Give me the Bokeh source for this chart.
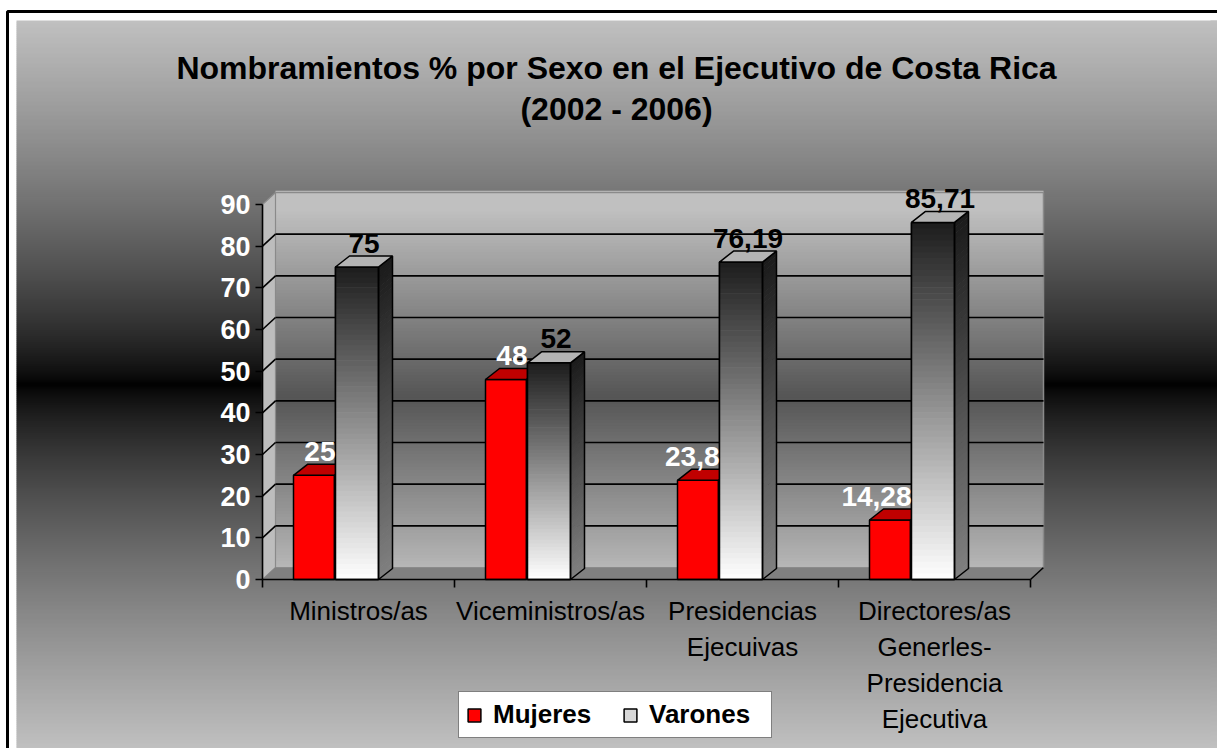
import numpy as np
from bokeh.plotting import figure
from bokeh.models import Range1d, LinearAxis, FixedTicker, Legend, LegendItem
from bokeh.core.properties import value
from bokeh.embed import file_html
from bokeh.resources import INLINE

# ---------------- data ----------------
categories = ["Ministros/as", "Viceministros/as", "Presidencias\nEjecuivas",
              "Directores/as\nGenerles-\nPresidencia\nEjecutiva"]
mujeres = [25, 48, 23.8, 14.28]
varones = [75, 52, 76.19, 85.71]
series_names = ["Mujeres", "Varones"]
y_ticks = [0, 10, 20, 30, 40, 50, 60, 70, 80, 90]
title_lines = ["Nombramientos % por Sexo en el Ejecutivo de Costa Rica", "(2002 - 2006)"]

FONT_NAME = "Liberation Sans"
FONT = value(FONT_NAME)

# ---------------- geometry (pixel layout -> data units) ----------------
W, H = 1217, 748
PAGE = 0
X0_PX, X_UNIT = 358.0, 192.0          # px of first category centre, px per category
Y0_PX, Y_UNIT = 579.0, 375.0 / 90.0   # px of value 0, px per percent


def ux(wx):
    return (wx - X0_PX) / X_UNIT


def vy(wy):
    return (Y0_PX - wy) / Y_UNIT


def gray(g):
    g = int(max(0, min(255, round(g))))
    return "#%02x%02x%02x" % (g, g, g)


def lerp_hex(c0, c1, t):
    a = [int(c0[k:k + 2], 16) for k in (1, 3, 5)]
    b = [int(c1[k:k + 2], 16) for k in (1, 3, 5)]
    return "#%02x%02x%02x" % tuple(int(round(a[k] + (b[k] - a[k]) * t)) for k in range(3))


N_CAT = len(categories)
X_MIN, X_MAX = -0.5, N_CAT - 0.5
WDX, WDY = 13 / X_UNIT, 12 / Y_UNIT      # wall depth
BDX, BDY = 14 / X_UNIT, 11 / Y_UNIT      # bar depth
M_L, M_R = 31 / X_UNIT, 72 / X_UNIT      # offsets from category left edge
V_L, V_R = 73 / X_UNIT, 116 / X_UNIT
Y_MAX = y_ticks[-1]

p = figure(width=W, height=H,
           x_range=Range1d(ux(PAGE), ux(PAGE + W)),
           y_range=Range1d(vy(PAGE + H), vy(PAGE)),
           output_backend="svg", toolbar_location=None,
           x_axis_type=None, y_axis_type=None, min_border=0,
           outline_line_color=None, background_fill_color="white",
           border_fill_color="white")
p.outline_line_color = None
p.outline_line_alpha = 0

# ---------------- page background gradient ----------------
bands = np.arange(20, 760, 2)
bg_cols = [gray(192 * min(1.0, abs(b + 1 - 384) / 364) ** 0.75) for b in bands]
p.quad(left=ux(16), right=ux(1240), top=[vy(b) for b in bands],
       bottom=[vy(b + 2.7) for b in bands], fill_color=bg_cols, line_color=None)

# outer frame line (top and left)
p.line(x=[ux(1240), ux(7), ux(7)], y=[vy(11), vy(11), vy(760)],
       line_color="black", line_width=3)

# ---------------- 3D walls ----------------
wall_top = Y_MAX + WDY
wall_bands = np.linspace(WDY, wall_top, 120)
wb_cols = []
for k in range(len(wall_bands) - 1):
    mid = (wall_bands[k] + wall_bands[k + 1]) / 2
    t = abs(mid - (WDY + wall_top) / 2 + 4) / ((wall_top - WDY) / 2)
    wb_cols.append(gray(85 + 107 * min(1, t)))
p.quad(left=X_MIN + WDX, right=X_MAX + WDX, bottom=wall_bands[:-1],
       top=wall_bands[1:] + 0.4, fill_color=wb_cols, line_color=None)

# side wall
p.patch(x=[X_MIN, X_MIN, X_MIN + WDX, X_MIN + WDX], y=[0, Y_MAX, wall_top, WDY],
        fill_color="#bdbdbd", line_color="#8a8a8a", line_width=1.2)
# floor
p.patch(x=[X_MIN, X_MAX, X_MAX + WDX, X_MIN + WDX], y=[0, 0, WDY, WDY],
        fill_color="#808080", line_color=None)
p.line(x=[X_MAX, X_MAX + WDX], y=[0, WDY], line_color="black", line_width=1.5)
# wall outer edges
p.line(x=[X_MIN + WDX, X_MAX + WDX, X_MAX + WDX], y=[wall_top, wall_top, WDY],
       line_color="#8a8a8a", line_width=1.5)

# gridlines on back + side wall
grid_vals = y_ticks[1:-1]
p.multi_line(xs=[[X_MIN + WDX, X_MAX + WDX] for _ in grid_vals],
             ys=[[t + WDY, t + WDY] for t in grid_vals], line_color="black", line_width=1.6)
p.multi_line(xs=[[X_MIN, X_MIN + WDX] for _ in grid_vals],
             ys=[[t, t + WDY] for t in grid_vals], line_color="black", line_width=1.6)

# ---------------- bars ----------------
cat_left = [i - 0.5 for i in range(N_CAT)]
m_l = [c + M_L for c in cat_left]
m_r = [c + M_R for c in cat_left]
v_l = [c + V_L for c in cat_left]
v_r = [c + V_R for c in cat_left]

# Mujeres
r_m = p.quad(left=m_l, right=m_r, bottom=0, top=mujeres, fill_color="#ff0000",
             line_color="black", line_width=1.5)
p.patches(xs=[[a, b, b + BDX, a + BDX] for a, b in zip(m_l, m_r)],
          ys=[[h, h, h + BDY, h + BDY] for h in mujeres],
          fill_color="#c00000", line_color="black", line_width=1.5)
p.patches(xs=[[b, b + BDX, b + BDX, b] for b in m_r],
          ys=[[0, BDY, h + BDY, h] for h in mujeres],
          fill_color="#a00000", line_color="black", line_width=1.5)

# Varones (gradient front & side)
r_v = p.quad(left=v_l, right=v_r, bottom=0, top=varones, fill_color="#d8d8d8",
             line_color="black", line_width=1.5)
NS = 60
fl, fr, fb, ft, fc = [], [], [], [], []
sx, sy, sc = [], [], []
for a, b, h in zip(v_l, v_r, varones):
    edges = np.linspace(0, h, NS + 1)
    for k in range(NS):
        t = (k + 0.5) / NS
        fl.append(a); fr.append(b)
        fb.append(edges[k]); ft.append(min(h, edges[k + 1] + 0.15))
        fc.append(lerp_hex("#ffffff", "#1c1c1c", t))
        y0, y1 = edges[k], min(h, edges[k + 1] + 0.15)
        sx.append([b, b + BDX, b + BDX, b])
        sy.append([y0, y0 + BDY, y1 + BDY, y1])
        sc.append(lerp_hex("#808080", "#1a1a1a", t))
p.quad(left=fl, right=fr, bottom=fb, top=ft, fill_color=fc, line_color=None)
p.patches(xs=sx, ys=sy, fill_color=sc, line_color=None)
p.quad(left=v_l, right=v_r, bottom=0, top=varones, fill_color=None,
       line_color="black", line_width=1.5)
p.patches(xs=[[b, b + BDX, b + BDX, b] for b in v_r],
          ys=[[0, BDY, h + BDY, h] for h in varones],
          fill_color=None, line_color="black", line_width=1.5)
p.patches(xs=[[a, b, b + BDX, a + BDX] for a, b in zip(v_l, v_r)],
          ys=[[h, h, h + BDY, h + BDY] for h in varones],
          fill_color="#b4b4b4", line_color="black", line_width=1.5)


def fmt(v):
    return ("%g" % v).replace(".", ",")


LBL_GAP = 13 / Y_UNIT
p.text(x=[b + 1 / X_UNIT for b in m_r], y=[h + BDY + LBL_GAP for h in mujeres],
       text=[fmt(v) for v in mujeres], text_font=FONT, text_font_size="28px",
       text_font_style="bold", text_color="white", text_align="right",
       text_baseline="alphabetic")
p.text(x=[(a + b) / 2 + BDX / 2 for a, b in zip(v_l, v_r)],
       y=[h + BDY + LBL_GAP for h in varones],
       text=[fmt(v) for v in varones], text_font=FONT, text_font_size="28px",
       text_font_style="bold", text_color="black", text_align="center",
       text_baseline="alphabetic")

# ---------------- title ----------------
p.text(x=[ux(616), ux(616)], y=[vy(67), vy(108)], text=title_lines,
       text_font=FONT, text_font_size="32px", text_font_style="bold",
       text_color="black", text_align="center", text_baseline="alphabetic")

# right edge cover (page background continues to the edge)
p.quad(left=ux(1210), right=ux(1240), top=[vy(b) for b in bands],
       bottom=[vy(b + 2.7) for b in bands], fill_color=bg_cols, line_color=None)

# ---------------- axes ----------------
yaxis = LinearAxis(fixed_location=X_MIN, ticker=FixedTicker(ticks=y_ticks),
                   bounds=(0, Y_MAX), major_tick_out=7, major_tick_in=0,
                   minor_tick_out=0, minor_tick_in=0, major_label_standoff=5,
                   major_label_text_font=FONT_NAME, major_label_text_font_size="27px",
                   major_label_text_font_style="bold", major_label_text_color="white",
                   axis_line_width=1.6, major_tick_line_width=1.6)
p.add_layout(yaxis, "left")

xaxis = LinearAxis(fixed_location=0,
                   ticker=FixedTicker(ticks=list(range(N_CAT)),
                                      minor_ticks=[c for c in cat_left] + [X_MAX]),
                   bounds=(X_MIN, X_MAX), major_tick_out=0, major_tick_in=0,
                   major_tick_line_color=None, minor_tick_out=8, minor_tick_in=0,
                   minor_tick_line_width=1.6, axis_line_width=1.6,
                   major_label_overrides={i: c for i, c in enumerate(categories)},
                   major_label_standoff=8, major_label_text_font=FONT_NAME,
                   major_label_text_font_size="26px", major_label_text_color="black",
                   major_label_text_line_height=1.2)
p.add_layout(xaxis, "below")

# ---------------- legend ----------------
legend = Legend(items=[LegendItem(label=series_names[0], renderers=[r_m]),
                       LegendItem(label=series_names[1], renderers=[r_v])],
                orientation="horizontal", location=(458, 10),
                label_text_font=FONT_NAME, label_text_font_size="26px",
                label_text_font_style="bold", label_text_color="black",
                glyph_width=16, glyph_height=16, label_standoff=11, spacing=14,
                label_width=115, padding=7, margin=0, border_line_color="black",
                border_line_width=1.5, background_fill_color="white",
                background_fill_alpha=1.0)
p.add_layout(legend)

open("out.html", "w").write(file_html(p, INLINE))
